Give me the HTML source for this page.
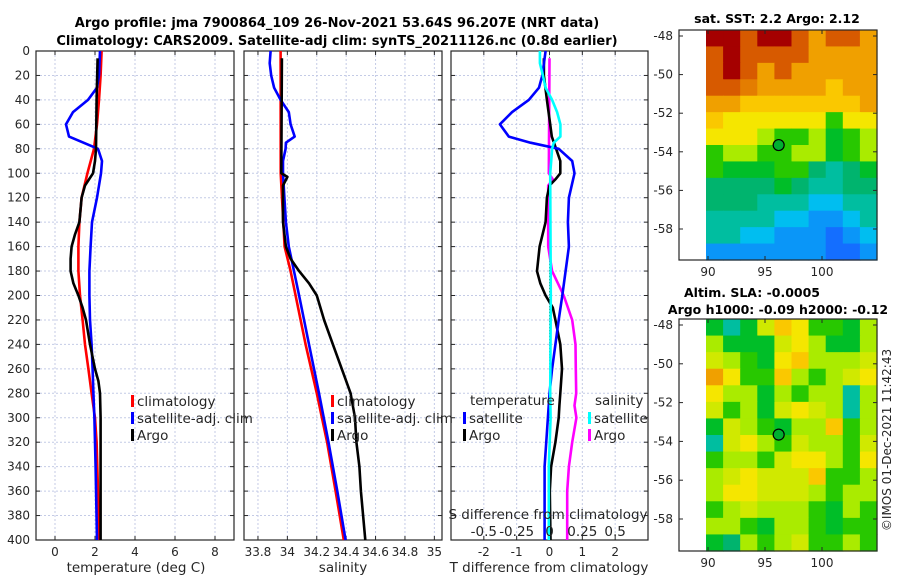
<!DOCTYPE html>
<html><head><meta charset="utf-8">
<style>
body{margin:0;background:#fff;}
svg{display:block;font-family:"DejaVu Sans","Liberation Sans",sans-serif;}
.tl{font-size:12px;fill:#262626;}
.lg{font-size:13.5px;fill:#262626;}
.tt{font-size:13px;font-weight:bold;fill:#000;}
.tm{font-size:12.5px;font-weight:bold;fill:#000;}
</style></head>
<body>
<svg id="fig" width="900" height="580" viewBox="0 0 900 580" xmlns="http://www.w3.org/2000/svg">
<rect width="900" height="580" fill="#fff"/>
<text class="tt" x="337" y="27" text-anchor="middle">Argo profile: jma 7900864_109 26-Nov-2021 53.64S 96.207E (NRT data)</text>
<text class="tt" x="337" y="45" text-anchor="middle">Climatology: CARS2009. Satellite-adj clim: synTS_20211126.nc (0.8d earlier)</text>
<g id="p1"></g>
<g id="p2"></g>
<g id="p3"></g>
<g id="m1"></g>
<g id="m2"></g>
<text class="tm" x="777" y="23" text-anchor="middle">sat. SST: 2.2 Argo: 2.12</text>
<text class="tm" x="752" y="297" text-anchor="middle">Altim. SLA: -0.0005</text>
<text class="tm" x="778" y="314" text-anchor="middle">Argo h1000: -0.09 h2000: -0.12</text>
<text class="tl" x="0" y="0" transform="translate(891,440) rotate(-90)" text-anchor="middle">©IMOS 01-Dec-2021 11:42:43</text>
</svg>
<script>
// ---- data ----
const depthTicks=[0,20,40,60,80,100,120,140,160,180,200,220,240,260,280,300,320,340,360,380,400];
const tempTicks=[0,2,4,6,8];
const salTicks=[33.8,34,34.2,34.4,34.6,34.8,35];
const salTickLabels=["33.8","34","34.2","34.4","34.6","34.8","35"];
const dTTicks=[-2,-1,0,1,2];
const dSTicks=[-0.5,-0.25,0,0.25,0.5];
const dSTickLabels=["-0.5","-0.25","0","0.25","0.5"];

const tClimDepth=[0,20,40,60,80,100,120,140,160,180,200,220,240,260,280,300,320,360,400];
const tClimVal=[2.33,2.28,2.2,2.1,1.95,1.62,1.33,1.22,1.17,1.17,1.25,1.38,1.5,1.67,1.83,2.0,2.08,2.15,2.2];
const tSatDepth=[0,20,30,40,50,60,70,80,90,100,120,140,160,180,200,220,240,260,280,300,340,400];
const tSatVal=[2.25,2.2,2.1,1.65,0.9,0.55,0.7,2.15,2.35,2.3,2.1,1.85,1.78,1.72,1.72,1.75,1.83,1.88,1.92,1.97,2.03,2.1];
const tArgoDepth=[6,40,80,90,100,110,120,140,150,160,170,180,190,200,210,220,240,260,270,280,300,400];
const tArgoVal=[2.13,2.08,2.05,2.0,1.9,1.5,1.33,1.22,1.0,0.83,0.78,0.78,0.92,1.17,1.38,1.55,1.75,2.0,2.17,2.25,2.28,2.28];

const sClimDepth=[0,100,160,180,200,240,280,320,360,400];
const sClimVal=[33.954,33.955,33.981,34.022,34.056,34.124,34.2,34.27,34.328,34.384];
const sSatDepth=[0,10,20,30,40,50,60,70,75,80,90,100,120,140,160,180,200,240,280,320,360,400];
const sSatVal=[33.886,33.88,33.89,33.91,33.954,34.01,34.022,34.05,33.99,33.988,33.97,33.97,33.98,33.99,34.01,34.045,34.08,34.147,34.215,34.28,34.34,34.396];
const sArgoDepth=[6,100,103,110,140,160,170,180,190,200,220,240,260,270,280,300,320,340,360,400];
const sArgoVal=[33.963,33.959,34.0,33.97,33.97,33.99,34.022,34.08,34.147,34.2,34.25,34.31,34.37,34.4,34.43,34.46,34.47,34.49,34.5,34.53];

const dTSatDepth=[0,20,30,40,50,60,70,75,80,90,100,120,140,160,180,200,220,240,260,280,300,340,400];
const dTSatVal=[-0.12,-0.22,-0.32,-0.63,-1.14,-1.51,-1.24,-0.58,0.28,0.69,0.76,0.59,0.56,0.59,0.49,0.39,0.28,0.18,0.08,0.0,-0.05,-0.15,-0.15];
const dTArgoDepth=[6,20,40,60,70,80,90,100,105,110,120,140,160,180,190,200,210,220,240,260,280,290,300,320,340,360,400];
const dTArgoVal=[-0.17,-0.17,-0.08,0.02,0.07,0.2,0.33,0.33,0.18,0.0,-0.08,-0.12,-0.3,-0.38,-0.28,-0.12,0.1,0.18,0.33,0.38,0.33,0.3,0.28,0.18,0.05,0.01,0.03];
const dSSatDepth=[0,10,20,30,40,50,60,70,75,80,90,100,200,280,300,340,400];
const dSSatVal=[-0.073,-0.073,-0.05,-0.03,0.02,0.058,0.083,0.083,0.033,0.02,0.013,0.005,0.01,0.005,0.008,-0.005,-0.005];
const dSArgoDepth=[6,100,105,110,160,180,200,220,240,260,280,290,300,320,340,360,400];
const dSArgoVal=[0,-0.005,0.025,-0.01,-0.01,0.02,0.108,0.173,0.198,0.2,0.203,0.19,0.205,0.173,0.148,0.135,0.135];

const lonTicks=[90,95,100];
const latTicks=[-48,-50,-52,-54,-56,-58];
const argoLon=96.2, argoLat=-53.65;
const sstGrid=[
[9,9,8,9,9,8,7,8,8,7],[8,9,8,8,8,8,7,7,7,7],[8,9,8,7,8,7,7,7,7,7],[8,8,7.5,7,7,7,7,6.5,7,7],
[7,7,6.5,6.5,6.5,6.5,6.5,6.5,6.5,7],[6.5,6,6,6,6,6,6,4.5,6,6],[6,6,6,5,4.5,4.5,5,4,4.5,5],
[4.5,5,5,4.5,4.5,5,5,4,4.5,5],[4.5,4,4,4,4.5,4.5,3.5,3,3.5,4],[3.5,3.5,3.5,3.5,4,3.5,3,3,3.5,3.5],
[3.5,3.5,3.5,3,3,3,2.5,2.5,3,3],[3,3,3,3,2.5,2.5,2,2,2.5,3],[3,3,2.5,2.5,2,2,2,1.5,2,2.5],
[2,2,2,2,2,2,2,1.5,1.5,2]];
const slaGrid=[
[4,3,4,5.5,6.5,6,4.5,4.5,4,5],[5,4,4,4,5.5,6,5,4,4,5],[5.5,5,4.5,4,6,6.5,5,5,5,5.5],
[7,6,4.5,4.5,6.5,5,4.5,5,5.5,6],[6,5,5,4,5,4.5,5,5,3,5],[5.5,4.5,5,4,5.5,6,5.5,5,3,5],
[4,5.5,5,4.5,4,5,5,6.5,4.5,5],[3,5.5,6,5,4.5,5.5,5,5,4.5,5.5],[4.5,5,5,4.5,5.5,6,6,5,4.5,6],
[5,5.5,6,5.5,5.5,5.5,6.5,4.5,4.5,5],[5,6,6,5.5,5.5,5.5,5,4.5,5,5],[4.5,5,5.5,5,5,5,4.5,4,5,4.5],
[5,5,4.5,4,5,5,4.5,4,4.5,4.5],[4,3.5,5,4.5,5,5.5,4.5,4.5,5,4.5]];

// ---- drawing ----
const NS="http://www.w3.org/2000/svg";
function mk(parent,tag,attrs,txt){const e=document.createElementNS(NS,tag);for(const k in attrs)e.setAttribute(k,attrs[k]);if(txt!==undefined)e.textContent=txt;parent.appendChild(e);return e;}
const Y0=51,Y1=540;
function yD(d){return Y0+(d/400)*(Y1-Y0);}
function lin(dmin,dmax,p0,p1){return v=>p0+(v-dmin)/(dmax-dmin)*(p1-p0);}

function panel(g,x0,x1,xs,ticks,labels,showY){
  depthTicks.forEach(d=>{const l=mk(g,'line',{x1:x0,x2:x1,y1:yD(d),y2:yD(d),stroke:'#c4cbe6','stroke-width':1,'stroke-dasharray':'2,2'});
    
    });
  ticks.forEach((t,i)=>{const x=xs(t);const l=mk(g,'line',{x1:x,x2:x,y1:Y0,y2:Y1,stroke:'#c4cbe6','stroke-width':1,'stroke-dasharray':'2,2'});
    
    
    mk(g,'line',{x1:x,x2:x,y1:Y1,y2:Y1-4,stroke:'#262626'});mk(g,'line',{x1:x,x2:x,y1:Y0,y2:Y0+4,stroke:'#262626'});
    if(labels){const tx=mk(g,'text',{x:x,y:Y1+16,'text-anchor':'middle',class:'tl'},labels[i]);
      
      }
  });
  depthTicks.forEach(d=>{mk(g,'line',{x1:x0,x2:x0+4,y1:yD(d),y2:yD(d),stroke:'#262626'});mk(g,'line',{x1:x1,x2:x1-4,y1:yD(d),y2:yD(d),stroke:'#262626'});
    if(showY){const tx=mk(g,'text',{x:x0-6,y:yD(d)+4,'text-anchor':'end',class:'tl'},String(d));
      
      }});
  const b=mk(g,'rect',{x:x0,y:Y0,width:x1-x0,height:Y1-Y0,fill:'none',stroke:'#262626','stroke-width':1.2});
  
  
}
function series(g,xs,dep,val,color,name){
  const pts=dep.map((d,i)=>xs(val[i]).toFixed(1)+','+yD(d).toFixed(1)).join(' ');
  const p=mk(g,'polyline',{points:pts,fill:'none',stroke:color,'stroke-width':2.6,'stroke-linejoin':'round'});
  
  
}
function legend(g,x,y,items){
  items.forEach((it,i)=>{const yy=y+i*17;
    const r=mk(g,'rect',{x:x,y:yy-10,width:3,height:12,fill:it[1]});
    
    
    const t=mk(g,'text',{x:x+6,y:yy+1,class:'lg'},it[0]);
    
    });
}
function label(g,x,y,txt,name,cls,anchor){const t=mk(g,'text',{x:x,y:y,'text-anchor':anchor||'middle',class:cls||'tl'},txt);
  
  }

// Panel 1
const g1=document.getElementById('p1');
const xT=lin(-0.95,8.95,36,234);
panel(g1,36,234,xT,tempTicks,tempTicks.map(String),true);
series(g1,xT,tClimDepth,tClimVal,'#ff0000','temp-climatology-line');
series(g1,xT,tSatDepth,tSatVal,'#0000ff','temp-satellite-line');
series(g1,xT,tArgoDepth,tArgoVal,'#000000','temp-argo-line');
legend(g1,131,405,[['climatology','#ff0000'],['satellite-adj. clim','#0000ff'],['Argo','#000000']]);
label(g1,136,572,'temperature (deg C)','x-axis-title-temperature','lg');

// Panel 2
const g2=document.getElementById('p2');
const xS=lin(33.705,35.052,244,442);
panel(g2,244,442,xS,salTicks,salTickLabels,false);
series(g2,xS,sClimDepth,sClimVal,'#ff0000','sal-climatology-line');
series(g2,xS,sSatDepth,sSatVal,'#0000ff','sal-satellite-line');
series(g2,xS,sArgoDepth,sArgoVal,'#000000','sal-argo-line');
legend(g2,331,405,[['climatology','#ff0000'],['satellite-adj. clim','#0000ff'],['Argo','#000000']]);
label(g2,343,572,'salinity','x-axis-title-salinity','lg');

// Panel 3
const g3=document.getElementById('p3');
const xD=lin(-3,3,451,648);
const xDS=v=>xD(v*4);
panel(g3,451,648,xD,dTTicks,dTTicks.map(String),false);
const z=mk(g3,'line',{x1:xD(0),x2:xD(0),y1:yD(5),y2:Y1,stroke:'#2a7a2a','stroke-width':1,'stroke-dasharray':'1,2'});


series(g3,xDS,dSArgoDepth,dSArgoVal,'#ff00ff','sal-diff-argo-line');
series(g3,xD,dTArgoDepth,dTArgoVal,'#000000','temp-diff-argo-line');
series(g3,xD,dTSatDepth,dTSatVal,'#0000ff','temp-diff-satellite-line');
series(g3,xDS,dSSatDepth,dSSatVal,'#00ffff','sal-diff-satellite-line');
label(g3,470,405,'temperature','legend-title-temperature','lg','start');
label(g3,595,405,'salinity','legend-title-salinity','lg','start');
legend(g3,463,422,[['satellite','#0000ff'],['Argo','#000000']]);
legend(g3,588,422,[['satellite','#00ffff'],['Argo','#ff00ff']]);
label(g3,548,519,'S difference from climatology','s-diff-axis-title','lg');
dSTicks.forEach((t,i)=>label(g3,xDS(t),536,dSTickLabels[i],'s-diff-tick-label','lg'));
label(g3,549,572,'T difference from climatology','x-axis-title-t-diff','lg');

// Maps
function jet(v){
  const stops=[[1.5,[20,110,255]],[2.5,[0,190,240]],[3,[0,190,160]],[3.5,[0,180,110]],[4,[0,190,40]],[4.5,[40,200,0]],[5,[170,235,0]],[6,[245,230,0]],[6.5,[250,200,0]],[7,[240,160,0]],[8,[215,90,0]],[9,[165,0,0]]];
  if(v<=stops[0][0])return 'rgb('+stops[0][1]+')';
  for(let i=1;i<stops.length;i++){if(v<=stops[i][0]){const a=stops[i-1],b=stops[i],f=(v-a[0])/(b[0]-a[0]);
    return 'rgb('+a[1].map((c,k)=>Math.round(c+(b[1][k]-c)*f)).join(',')+')';}}
  return 'rgb('+stops[stops.length-1][1]+')';
}
function map(g,top,bot,lat48y,lat58y,grid,name){
  const X0=679,X1=877,D0=706;
  const xL=lin(90,100,708,822);
  const yL=lin(-48,-58,lat48y,lat58y);
  const rows=grid.length,cols=grid[0].length,cw=(X1-D0)/cols,ch=(bot-top)/rows;
  grid.forEach((row,r)=>row.forEach((v,c)=>{
    const rc=mk(g,'rect',{x:(D0+c*cw).toFixed(2),y:(top+r*ch).toFixed(2),width:(cw+0.6).toFixed(2),height:(ch+0.6).toFixed(2),fill:jet(v)});
    
    }));
  const b=mk(g,'rect',{x:X0,y:top,width:X1-X0,height:bot-top,fill:'none',stroke:'#262626','stroke-width':1.2});
  
  
  lonTicks.forEach(t=>{const x=xL(t);mk(g,'line',{x1:x,x2:x,y1:bot,y2:bot-4,stroke:'#262626'});mk(g,'line',{x1:x,x2:x,y1:top,y2:top+4,stroke:'#262626'});
    label(g,x,bot+16,String(t),'lon-tick-label');});
  latTicks.forEach(t=>{const y=yL(t);mk(g,'line',{x1:X0,x2:X0+4,y1:y,y2:y,stroke:'#262626'});mk(g,'line',{x1:X1,x2:X1-4,y1:y,y2:y,stroke:'#262626'});
    const tx=mk(g,'text',{x:X0-6,y:y+4,'text-anchor':'end',class:'tl'},String(t));
    
    });
  const c=mk(g,'circle',{cx:xL(argoLon),cy:yL(argoLat),r:5.5,fill:'#00b030',stroke:'#000','stroke-width':1.2});
  
  
}
map(document.getElementById('m1'),30,260,36,229,sstGrid,'sst');
map(document.getElementById('m2'),319,551,325,519,slaGrid,'sla');
</script>
</body></html>
